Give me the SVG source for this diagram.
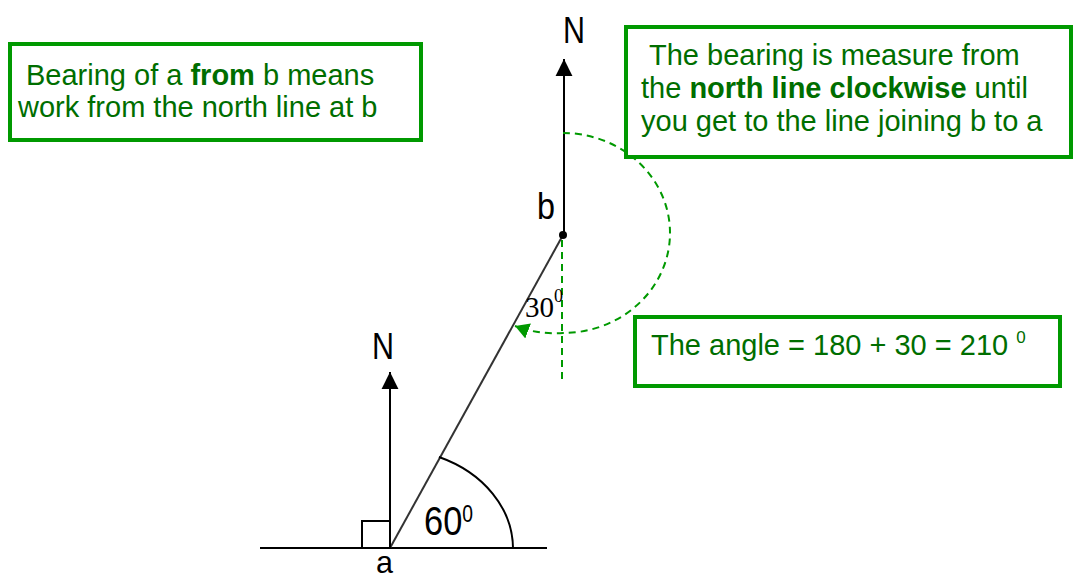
<svg xmlns="http://www.w3.org/2000/svg" width="1073" height="579" viewBox="0 0 1073 579">
<style>
.box{fill:#fff;stroke:#009900;stroke-width:4}
.bt{font-family:"Liberation Sans",Arial,sans-serif;font-size:29px;fill:#006e00}
.lbl{font-family:"Liberation Sans",Arial,sans-serif;fill:#000}
.ln{stroke:#000;stroke-width:2;fill:none}
.dash{stroke:#009900;stroke-width:2;fill:none;stroke-dasharray:7 5}
</style>
<defs>
<marker id="ah" markerUnits="userSpaceOnUse" markerWidth="18" markerHeight="18" viewBox="0 0 16 16" refX="15" refY="8" orient="auto">
<path d="M0,0.5 L15,8 L0,15.5 Z" fill="#000"/>
</marker>
<marker id="gh" markerUnits="userSpaceOnUse" markerWidth="16" markerHeight="16" viewBox="0 0 16 16" refX="14" refY="8" orient="auto">
<path d="M0,0 L14,8 L0,16 Z" fill="#009900"/>
</marker>
</defs>
<g id="connectors">
<line class="ln" x1="260" y1="548" x2="547" y2="548"/>
<line class="ln" x1="390" y1="548" x2="390" y2="372" marker-end="url(#ah)"/>
<line class="ln" x1="564" y1="235" x2="564" y2="59" marker-end="url(#ah)"/>
<line x1="390" y1="548" x2="563" y2="235" stroke="#333" stroke-width="2"/>
<rect class="ln" x="362" y="521" width="28" height="27"/>
<path class="ln" d="M513,548 A123,100 0 0 0 439,457"/>
<line class="dash" x1="562" y1="240" x2="562" y2="380"/>
<path class="dash" d="M563,133 A107,100 0 0 1 563,333 A107,100 0 0 1 515,326" marker-end="url(#gh)"/>
<circle cx="563" cy="235" r="4" fill="#000"/>
</g>
<g id="labels">
<text class="lbl" x="563" y="43" font-size="37" textLength="22" lengthAdjust="spacingAndGlyphs">N</text>
<text class="lbl" x="372" y="359" font-size="37" textLength="22" lengthAdjust="spacingAndGlyphs">N</text>
<text class="lbl" x="537" y="219" font-size="36" textLength="18" lengthAdjust="spacingAndGlyphs">b</text>
<text class="lbl" x="376" y="573" font-size="32" textLength="17" lengthAdjust="spacingAndGlyphs">a</text>
<text class="lbl" font-size="41" transform="translate(424,535) scale(0.84,1)">60<tspan font-size="23" dy="-13">0</tspan></text>
<text x="525" y="317" font-family="'Liberation Serif',serif" font-size="29" fill="#000">30<tspan font-size="18" dy="-15">0</tspan></text>
</g>
<g id="box1">
<rect class="box" x="10" y="44" width="411" height="96"/>
<text class="bt" x="26" y="85">Bearing of a <tspan font-weight="bold">from</tspan> b means</text>
<text class="bt" x="18" y="117">work from the north line at b</text>
</g>
<g id="box2">
<rect class="box" x="626" y="27" width="445" height="130"/>
<text class="bt" x="649" y="65">The bearing is measure from</text>
<text class="bt" x="641" y="98">the <tspan font-weight="bold">north line clockwise</tspan> until</text>
<text class="bt" x="641" y="131">you get to the line joining b to a</text>
</g>
<g id="box3">
<rect class="box" x="635" y="317" width="425" height="69"/>
<text class="bt" x="651" y="355">The angle = 180 + 30 = 210 <tspan font-size="17" dy="-12">0</tspan></text>
</g>
</svg>
